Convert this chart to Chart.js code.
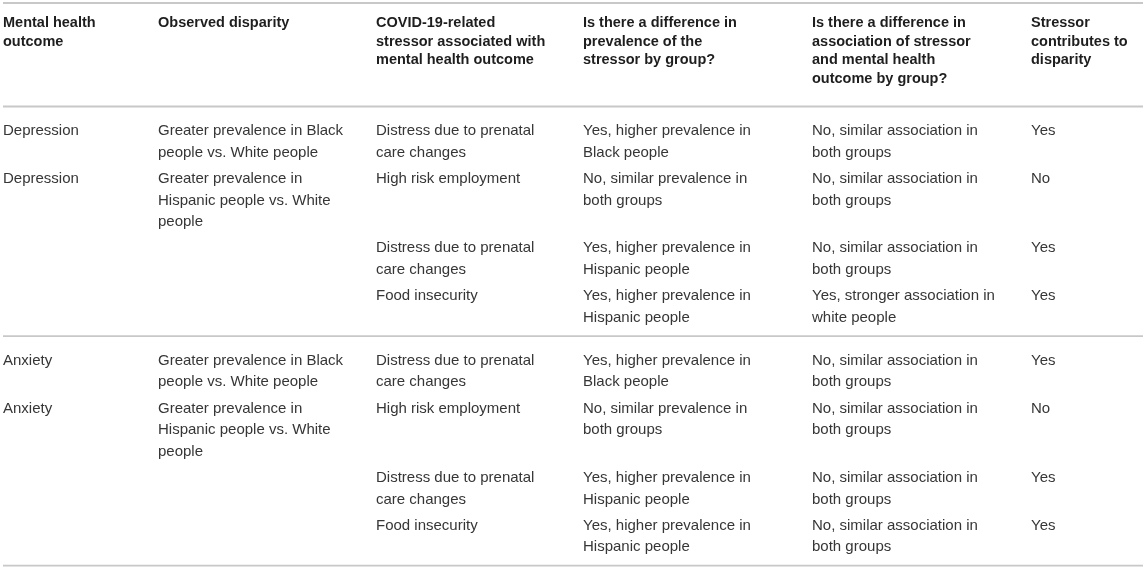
<!DOCTYPE html>
<html>
<head>
<meta charset="utf-8">
<script src="https://cdn.jsdelivr.net/npm/chart.js@4"></script>
<style>
  html, body { margin: 0; padding: 0; background: #fff; }
  #wrap { width: 1143px; height: 570px; position: relative; }
</style>
</head>
<body>
<div id="wrap"><canvas id="canvas"></canvas></div>
<script>
// table content (each cell is a list of its printed lines)
const headers = [
  ['Mental health', 'outcome'],
  ['Observed disparity'],
  ['COVID-19-related', 'stressor associated with', 'mental health outcome'],
  ['Is there a difference in', 'prevalence of the', 'stressor by group?'],
  ['Is there a difference in', 'association of stressor', 'and mental health', 'outcome by group?'],
  ['Stressor', 'contributes to', 'disparity']
]

const outcomes = [
  ['Depression'], ['Depression'], [], [],
  ['Anxiety'], ['Anxiety'], [], []
]

const disparities = [
  ['Greater prevalence in Black', 'people vs. White people'],
  ['Greater prevalence in', 'Hispanic people vs. White', 'people'],
  [], [],
  ['Greater prevalence in Black', 'people vs. White people'],
  ['Greater prevalence in', 'Hispanic people vs. White', 'people'],
  [], []
]

const stressors = [
  ['Distress due to prenatal', 'care changes'],
  ['High risk employment'],
  ['Distress due to prenatal', 'care changes'],
  ['Food insecurity'],
  ['Distress due to prenatal', 'care changes'],
  ['High risk employment'],
  ['Distress due to prenatal', 'care changes'],
  ['Food insecurity']
]

const prevalenceDiff = [
  ['Yes, higher prevalence in', 'Black people'],
  ['No, similar prevalence in', 'both groups'],
  ['Yes, higher prevalence in', 'Hispanic people'],
  ['Yes, higher prevalence in', 'Hispanic people'],
  ['Yes, higher prevalence in', 'Black people'],
  ['No, similar prevalence in', 'both groups'],
  ['Yes, higher prevalence in', 'Hispanic people'],
  ['Yes, higher prevalence in', 'Hispanic people']
]

const associationDiff = [
  ['No, similar association in', 'both groups'],
  ['No, similar association in', 'both groups'],
  ['No, similar association in', 'both groups'],
  ['Yes, stronger association in', 'white people'],
  ['No, similar association in', 'both groups'],
  ['No, similar association in', 'both groups'],
  ['No, similar association in', 'both groups'],
  ['No, similar association in', 'both groups']
]

const contributes = [
  ['Yes'], ['No'], ['Yes'], ['Yes'],
  ['Yes'], ['No'], ['Yes'], ['Yes']
]

const columns = [outcomes, disparities, stressors, prevalenceDiff, associationDiff, contributes]

// layout
const W = 1143, H = 570
const colLeft = [3, 158, 376, 583, 812, 1031]
const ruleLeft = 3
const topRule = 3
const headStart = 23, headStep = 18.5
const headRule = 106.5
const bodyStep = 21.6, rowGap = 4.6
const groupPadTop = 24.5, groupPadBottom = 18.5
const ruleColor = '#c8c8c8'
const headFont = 'bold 14.5px "Liberation Sans", Arial, sans-serif'
const bodyFont = '15px "Liberation Sans", Arial, sans-serif'

// work out where each row starts from its line count
const rowCount = outcomes.length
const rowLines = r => Math.max(...columns.map(c => c[r].length))
const rules = [topRule, headRule]
const rowY = []
let y = headRule + groupPadTop
let lastOutcome = null
for (let r = 0; r < rowCount; r++) {
  const name = outcomes[r][0]
  if (name && lastOutcome && name !== lastOutcome) {
    const rule = rowY[r - 1] + (rowLines(r - 1) - 1) * bodyStep + groupPadBottom
    rules.push(rule)
    y = rule + groupPadTop
  }
  if (name) lastOutcome = name
  rowY.push(y)
  y += rowLines(r) * bodyStep + rowGap
}
rules.push(rowY[rowCount - 1] + (rowLines(rowCount - 1) - 1) * bodyStep + groupPadBottom)

const datasets = columns.map((col, c) => ({
  label: headers[c].join(' '),
  data: [{ x: colLeft[c], y: headStart, lines: headers[c], head: true }]
    .concat(col.map((cell, r) => ({ x: colLeft[c], y: rowY[r], lines: cell, head: false }))),
  pointRadius: 0,
  pointHoverRadius: 0,
  showLine: false
}))

const tablePlugin = {
  id: 'tableText',
  afterDatasetsDraw(chart) {
    const ctx = chart.ctx
    const xs = chart.scales.x, ys = chart.scales.y
    ctx.save()
    ctx.strokeStyle = ruleColor
    ctx.lineWidth = 1.8
    rules.forEach(v => {
      const py = ys.getPixelForValue(v)
      ctx.beginPath()
      ctx.moveTo(xs.getPixelForValue(ruleLeft), py)
      ctx.lineTo(xs.getPixelForValue(W), py)
      ctx.stroke()
    })
    ctx.textAlign = 'left'
    ctx.textBaseline = 'middle'
    chart.data.datasets.forEach(ds => {
      ds.data.forEach(pt => {
        ctx.font = pt.head ? headFont : bodyFont
        ctx.fillStyle = pt.head ? '#1e1e1e' : '#363636'
        const step = pt.head ? headStep : bodyStep
        pt.lines.forEach((line, i) => {
          ctx.fillText(line, xs.getPixelForValue(pt.x), ys.getPixelForValue(pt.y + i * step))
        })
      })
    })
    ctx.restore()
  }
}

const config = {
  type: 'scatter',
  data: { datasets: datasets },
  options: {
    responsive: true,
    maintainAspectRatio: false,
    animation: false,
    layout: { padding: 0 },
    plugins: { legend: { display: false }, tooltip: { enabled: false } },
    scales: {
      x: { type: 'linear', min: 0, max: W, display: false },
      y: { type: 'linear', min: 0, max: H, reverse: true, display: false }
    }
  },
  plugins: [tablePlugin]
}
const canvas = document.getElementById('canvas')
const chart = new Chart(canvas, config)
</script>
</body>
</html>
